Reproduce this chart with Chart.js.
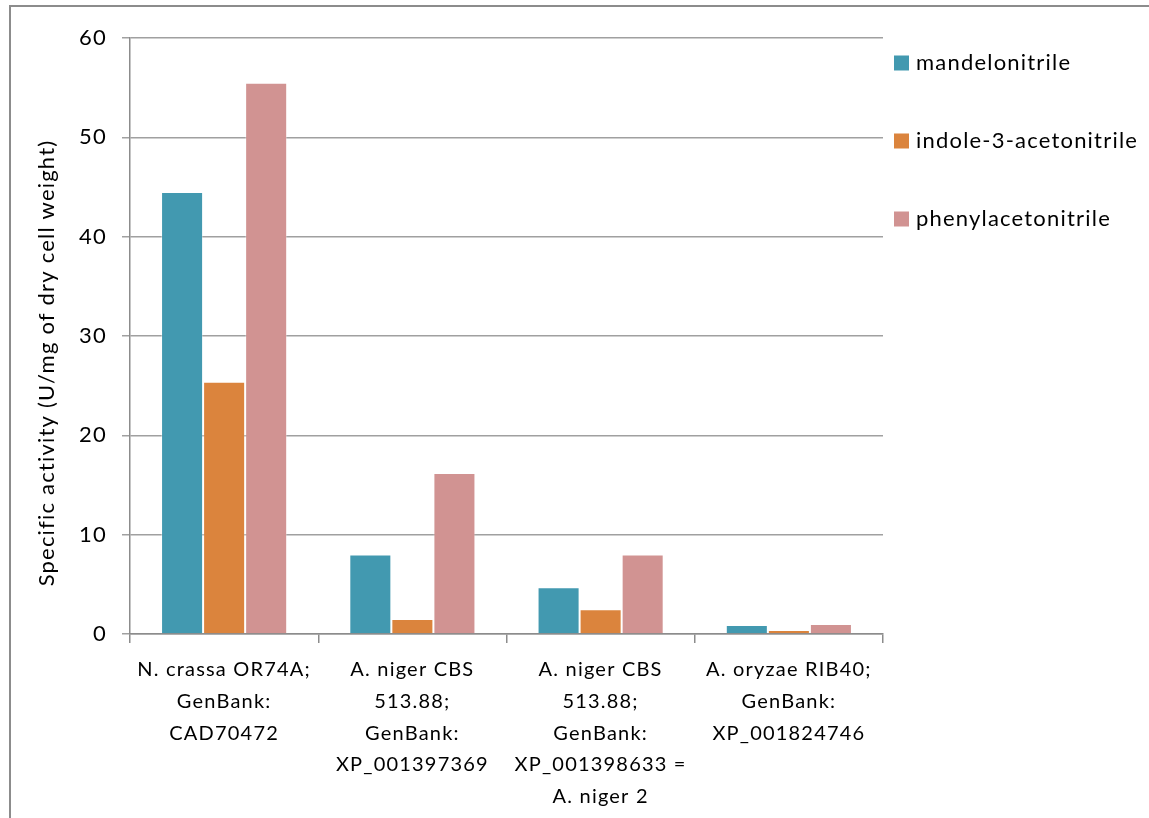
<!DOCTYPE html>
<html>
<head>
<meta charset="utf-8">
<title>Specific activity of nitrilases</title>
<script src="https://cdn.jsdelivr.net/npm/chart.js@4/dist/chart.umd.min.js"></script>
<style>
  html, body { margin: 0; padding: 0; background: #fff; }
  #wrap { position: relative; width: 1149px; height: 818px; overflow: hidden; }
  #frame {
    position: absolute; left: 9px; top: 5px; width: 1200px; height: 900px;
    border-left: 2px solid #8c8c8c; border-top: 2px solid #8c8c8c;
    pointer-events: none;
  }
  #chart { position: absolute; left: 0; top: 0; }
</style>
</head>
<body>
<div id="wrap">
  <canvas id="chart" width="1149" height="818"></canvas>
  <div id="frame"></div>
</div>
<script>
/* nitrilase activity — grouped bars */

// ── Data ──────────────────────────────────
const strains = [
  ["N. crassa OR74A;", "GenBank:", "CAD70472"],
  ["A. niger CBS", "513.88;", "GenBank:", "XP_001397369"],
  ["A. niger CBS", "513.88;", "GenBank:", "XP_001398633 =", "A. niger 2"],
  ["A. oryzae RIB40;", "GenBank:", "XP_001824746"],
];
const seriesNames = ["mandelonitrile", "indole-3-acetonitrile", "phenylacetonitrile"];
const mandelonitrile      = [44.5, 8.0, 4.7, 0.9];
const indoleAcetonitrile  = [25.4, 1.5, 2.5, 0.4];
const phenylacetonitrile  = [55.5, 16.2, 8.0, 1.0];
const yTicks = [0, 10, 20, 30, 40, 50, 60];
const yTitle = "Specific activity (U/mg of dry cell weight)";

const colors = ["#4299b0", "#db843d", "#d19392"];
const FONT = "Lato, 'Open Sans', sans-serif";
const SPACING = "1.2px";

// ── Slightly wider text tracking ──────────
const tracking = {
  id: "tracking",
  beforeDraw(chart) { chart.ctx.letterSpacing = SPACING; }
};

// ── Axis title + legend on the right, Excel style ──
const sideText = {
  id: "sideText",
  afterDraw(chart) {
    const ctx = chart.ctx;
    const top = chart.chartArea.top;
    ctx.save();
    ctx.letterSpacing = SPACING;
    ctx.font = "22px " + FONT;
    ctx.textBaseline = "middle";

    // y axis title, a bit below the plot's middle
    ctx.save();
    ctx.translate(47, 363);
    ctx.rotate(-Math.PI / 2);
    ctx.textAlign = "center";
    ctx.fillStyle = "#000";
    ctx.fillText(yTitle, 0, 0);
    ctx.restore();

    chart.data.datasets.forEach((ds, i) => {
      const cy = top + 25 + i * 78;
      ctx.fillStyle = ds.backgroundColor;
      ctx.fillRect(894, cy - 7.5, 15, 15);
      ctx.fillStyle = "#000";
      ctx.fillText(ds.label, 916, cy);
    });
    ctx.restore();
  }
};

// ── Chart ─────────────────────────────────
const datasets = [mandelonitrile, indoleAcetonitrile, phenylacetonitrile].map((vals, i) => ({
  label: seriesNames[i],
  data: vals,
  backgroundColor: colors[i],
  borderColor: "rgba(255,255,255,0.35)",
  borderWidth: 1,
  categoryPercentage: 0.67,
  barPercentage: 1.0,
}));

new Chart(document.getElementById("chart"), {
  type: "bar",
  data: { labels: strains, datasets },
  plugins: [tracking, sideText],
  options: {
    responsive: false,
    animation: false,
    devicePixelRatio: 1,
    layout: { padding: { top: 38, right: 266, bottom: 0, left: 0 } },
    plugins: {
      legend:  { display: false },
      tooltip: { enabled: false },
    },
    scales: {
      x: {
        ticks: {
          padding: 11,
          color: "#000",
          maxRotation: 0,
          autoSkip: false,
          font: { family: FONT, size: 20, lineHeight: 1.585 },
        },
        grid: {
          offset: true,
          drawOnChartArea: false,
          tickLength: 9,
          color: "#8c8c8c",
          lineWidth: 1.5,
        },
        border: { color: "#8c8c8c", width: 1.5 },
        afterFit: s => { s.height = 184; },
      },
      y: {
        min: yTicks[0],
        max: yTicks[yTicks.length - 1],
        afterBuildTicks: s => { s.ticks = yTicks.map(v => ({ value: v })); },
        ticks: {
          padding: 15,
          color: "#000",
          font: { family: FONT, size: 22 },
        },
        grid: { color: "#a0a0a0", lineWidth: 1.5, tickLength: 8 },
        border: { color: "#8c8c8c", width: 1.5 },
        afterFit: s => { s.width = 130; },
      },
    },
  },
});
</script>
</body>
</html>
